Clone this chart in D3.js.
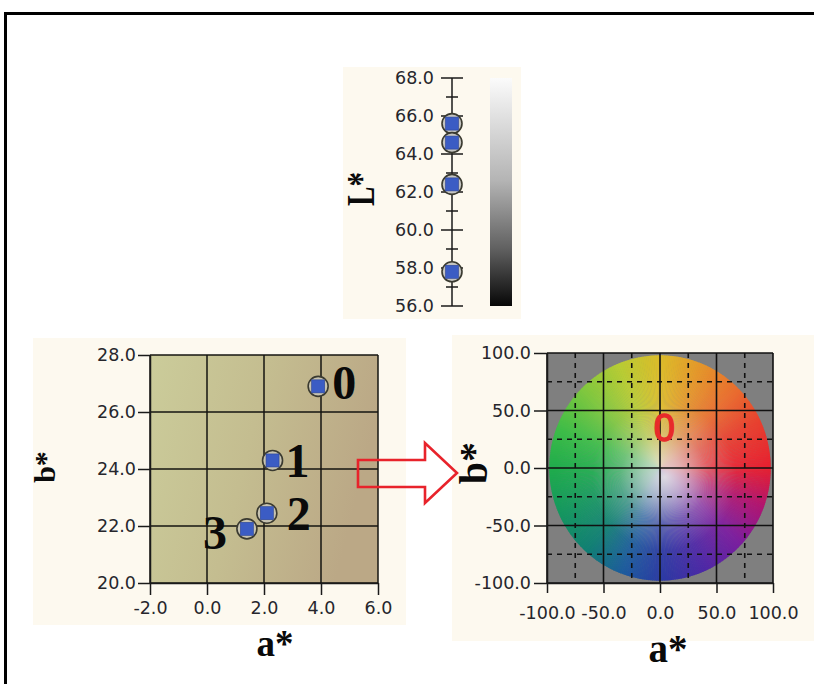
<!DOCTYPE html>
<html>
<head>
<meta charset="utf-8">
<script src="https://cdn.jsdelivr.net/npm/d3@7/dist/d3.min.js"></script>
<style>
  html, body { margin: 0; padding: 0; background: #ffffff; overflow: hidden; width: 814px; height: 684px; }
  svg { display: block; overflow: hidden; }
  .tick text { font-family: "DejaVu Sans", Verdana, sans-serif; font-size: 17.5px; fill: #26262c; }
  .tick line, .domain { stroke: #1a1a1a; stroke-width: 1.5; }
  .big { font-family: "Liberation Serif", "Times New Roman", serif; font-weight: bold; fill: #0a0a0a; }
</style>
</head>
<body>
<svg id="chart" width="814" height="684" viewBox="0 0 814 684"></svg>
<script>
// Samples measured in CIELAB space
const samples = ["0", "1", "2", "3"];
const lValues = [65.6, 64.6, 62.4, 57.8];
const aValues = [3.9, 2.3, 2.1, 1.4];
const bValues = [26.9, 24.3, 22.45, 21.9];

// Axis ticks
const lTicks = [56, 58, 60, 62, 64, 66, 68];
const lMinorTicks = [57, 59, 61, 63, 65, 67];
const abXTicks = [-2, 0, 2, 4, 6];
const abYTicks = [20, 22, 24, 26, 28];
const wheelTicks = [-100, -50, 0, 50, 100];
const wheelDashed = [-75, -25, 25, 75];

// Hue around the a*b* plane (angle from +a* toward +b*)
const hueAngles = [0, 25, 45, 70, 90, 112, 135, 160, 180, 205, 228, 250, 272, 295, 318, 340, 360];
const hueColors = ["#e61e2e", "#e8402e", "#ea6c2e", "#e49a2a", "#dcbc2a", "#b8cc34", "#80c83e", "#3cbc48",
                   "#20ac4c", "#149660", "#0e7e72", "#1a5a9c", "#2a36a2", "#4c24a4", "#7a1a9c", "#b0126e", "#e61e2e"];
const wheelRadius = 98;

// Label placement for the sample numbers (pixels from the point)
const labelOffsets = [[26, 13], [25, 17], [32, 17], [-32, 20]];

// Plain hyphen for negative tick values
const fmt = d3.formatLocale({ decimal: ".", thousands: ",", grouping: [3], currency: ["", ""], minus: "-" }).format(".1f");
const svg = d3.select("#chart");
const defs = svg.append("defs");

// Panel backgrounds
const cream = "#fdf9ef";
[[343, 67, 178, 252], [33, 338, 373, 287], [452, 335, 362, 306]].forEach(([x, y, w, h]) =>
  svg.append("rect").attr("x", x).attr("y", y).attr("width", w).attr("height", h).attr("fill", cream));

/* ---------- L* strip ---------- */
const yL = d3.scaleLinear().domain([56, 68]).range([306, 78]);
const lAxisX = 452;
const gL = svg.append("g");

const grayGrad = defs.append("linearGradient").attr("id", "grayBar")
  .attr("x1", 0).attr("y1", 0).attr("x2", 0).attr("y2", 1);
[[0, "#fbfbfb"], [0.45, "#b4b4b4"], [0.75, "#606060"], [1, "#070707"]].forEach(([o, c]) =>
  grayGrad.append("stop").attr("offset", o).attr("stop-color", c));
gL.append("rect").attr("x", 490).attr("y", yL(68)).attr("width", 22)
  .attr("height", yL(56) - yL(68)).attr("fill", "url(#grayBar)");

gL.append("g").attr("transform", `translate(${lAxisX},0)`)
  .call(d3.axisLeft(yL).tickValues(lTicks).tickFormat(fmt).tickSize(0).tickPadding(18))
  .call(g => g.select(".domain").remove());
gL.append("line").attr("x1", lAxisX).attr("x2", lAxisX).attr("y1", yL(68)).attr("y2", yL(56))
  .attr("stroke", "#1a1a1a").attr("stroke-width", 1.5);
gL.selectAll("line.major").data(lTicks).join("line").attr("class", "major")
  .attr("x1", lAxisX - 11).attr("x2", lAxisX + 11).attr("y1", d => yL(d)).attr("y2", d => yL(d))
  .attr("stroke", "#1a1a1a").attr("stroke-width", 1.5);
gL.selectAll("line.minor").data(lMinorTicks).join("line").attr("class", "minor")
  .attr("x1", lAxisX - 6).attr("x2", lAxisX + 6).attr("y1", d => yL(d)).attr("y2", d => yL(d))
  .attr("stroke", "#1a1a1a").attr("stroke-width", 1.5);

function marker(g, x, y, ring) {
  g.append("circle").attr("cx", x).attr("cy", y).attr("r", 10)
    .attr("fill", ring).attr("stroke", "#3a3a30").attr("stroke-width", 1.6);
  g.append("rect").attr("x", x - 6.5).attr("y", y - 6.5).attr("width", 13).attr("height", 13)
    .attr("fill", "#3b5cc4").attr("stroke", "#2c4496").attr("stroke-width", 0.6);
}
lValues.forEach(v => marker(gL, lAxisX, yL(v), "#c4c4c0"));

gL.append("text").attr("class", "big").attr("font-size", 29).attr("text-anchor", "middle")
  .attr("transform", "translate(374,189) scale(1.4,1) rotate(-90)").text("L*");

/* ---------- a*b* detail ---------- */
const xA = d3.scaleLinear().domain([-2, 6]).range([150, 378]);
const yB = d3.scaleLinear().domain([20, 28]).range([583, 355]);
const gAB = svg.append("g");

const olive = defs.append("linearGradient").attr("id", "olive")
  .attr("x1", 0).attr("y1", 0).attr("x2", 1).attr("y2", 0.25);
[[0, "#cbcc9a"], [0.5, "#c4bd90"], [1, "#bba886"]].forEach(([o, c]) =>
  olive.append("stop").attr("offset", o).attr("stop-color", c));
gAB.append("rect").attr("x", xA(-2)).attr("y", yB(28)).attr("width", xA(6) - xA(-2))
  .attr("height", yB(20) - yB(28)).attr("fill", "url(#olive)");

gAB.selectAll("line.gx").data(abXTicks).join("line").attr("class", "gx")
  .attr("x1", d => xA(d)).attr("x2", d => xA(d)).attr("y1", yB(28)).attr("y2", yB(20))
  .attr("stroke", "#141410").attr("stroke-width", 1.5);
gAB.selectAll("line.gy").data(abYTicks).join("line").attr("class", "gy")
  .attr("x1", xA(-2)).attr("x2", xA(6)).attr("y1", d => yB(d)).attr("y2", d => yB(d))
  .attr("stroke", "#141410").attr("stroke-width", 1.5);

gAB.append("g").attr("transform", `translate(0,${yB(20)})`)
  .call(d3.axisBottom(xA).tickValues(abXTicks).tickFormat(fmt).tickSize(12).tickPadding(7).tickSizeOuter(0));
gAB.append("g").attr("transform", `translate(${xA(-2)},0)`)
  .call(d3.axisLeft(yB).tickValues(abYTicks).tickFormat(fmt).tickSize(12).tickPadding(2).tickSizeOuter(0));

samples.forEach((s, i) => {
  const px = xA(aValues[i]), py = yB(bValues[i]);
  marker(gAB, px, py, "#c6c2b0");
  gAB.append("text").attr("class", "big").attr("font-size", 48).attr("text-anchor", "middle")
    .attr("x", px + labelOffsets[i][0]).attr("y", py + labelOffsets[i][1]).text(s);
});

gAB.append("text").attr("class", "big").attr("font-size", 30).attr("text-anchor", "middle")
  .attr("transform", "translate(55,467) rotate(-90)").text("b*");
gAB.append("text").attr("class", "big").attr("font-size", 37).attr("text-anchor", "middle")
  .attr("x", 275).attr("y", 656).text("a*");

/* ---------- arrow ---------- */
svg.append("path")
  .attr("d", "M358,460 L425,460 L425,443 L457,473 L425,503 L425,487 L358,487 Z")
  .attr("fill", "none").attr("stroke", "#e8232b").attr("stroke-width", 2.6).attr("stroke-linejoin", "miter");

/* ---------- a*b* colour plane ---------- */
const xW = d3.scaleLinear().domain([-100, 100]).range([547, 773]);
const yW = d3.scaleLinear().domain([-100, 100]).range([583, 353]);
const gW = svg.append("g");

gW.append("rect").attr("x", xW(-100)).attr("y", yW(100)).attr("width", xW(100) - xW(-100))
  .attr("height", yW(-100) - yW(100)).attr("fill", "#7f7f7f");

const hue = d3.scaleLinear().domain(hueAngles).range(hueColors).interpolate(d3.interpolateRgb);
const wedges = d3.range(0, 360, 1);
gW.selectAll("path.wedge").data(wedges).join("path").attr("class", "wedge")
  .attr("d", deg => {
    const a1 = deg * Math.PI / 180, a2 = (deg + 1.3) * Math.PI / 180;
    return `M${xW(0)},${yW(0)}` +
      `L${xW(wheelRadius * Math.cos(a1))},${yW(wheelRadius * Math.sin(a1))}` +
      `L${xW(wheelRadius * Math.cos(a2))},${yW(wheelRadius * Math.sin(a2))}Z`;
  })
  .attr("fill", deg => hue(deg + 0.5));

const glow = defs.append("radialGradient").attr("id", "glow").attr("cx", "52%").attr("cy", "54%").attr("r", "50%");
[[0, 0.9], [0.18, 0.65], [0.4, 0.28], [0.65, 0.06], [1, 0]].forEach(([o, a]) =>
  glow.append("stop").attr("offset", o).attr("stop-color", "#ececea").attr("stop-opacity", a));
gW.append("ellipse").attr("cx", xW(0)).attr("cy", yW(0))
  .attr("rx", xW(wheelRadius) - xW(0)).attr("ry", yW(0) - yW(wheelRadius)).attr("fill", "url(#glow)");

gW.selectAll("line.dx").data(wheelDashed).join("line").attr("class", "dx")
  .attr("x1", d => xW(d)).attr("x2", d => xW(d)).attr("y1", yW(100)).attr("y2", yW(-100))
  .attr("stroke", "#111").attr("stroke-width", 1.6).attr("stroke-dasharray", "5,5");
gW.selectAll("line.dy").data(wheelDashed).join("line").attr("class", "dy")
  .attr("x1", xW(-100)).attr("x2", xW(100)).attr("y1", d => yW(d)).attr("y2", d => yW(d))
  .attr("stroke", "#111").attr("stroke-width", 1.6).attr("stroke-dasharray", "5,5");
gW.selectAll("line.sx").data(wheelTicks).join("line").attr("class", "sx")
  .attr("x1", d => xW(d)).attr("x2", d => xW(d)).attr("y1", yW(100)).attr("y2", yW(-100))
  .attr("stroke", "#111").attr("stroke-width", 1.6);
gW.selectAll("line.sy").data(wheelTicks).join("line").attr("class", "sy")
  .attr("x1", xW(-100)).attr("x2", xW(100)).attr("y1", d => yW(d)).attr("y2", d => yW(d))
  .attr("stroke", "#111").attr("stroke-width", 1.6);

gW.append("g").attr("transform", `translate(0,${yW(-100)})`)
  .call(d3.axisBottom(xW).tickValues(wheelTicks).tickFormat(fmt).tickSize(10).tickPadding(14).tickSizeOuter(0));
gW.append("g").attr("transform", `translate(${xW(-100)},0)`)
  .call(d3.axisLeft(yW).tickValues(wheelTicks).tickFormat(fmt).tickSize(13).tickPadding(3).tickSizeOuter(0));

// Sample 0 located on the colour plane
gW.append("text").attr("x", xW(aValues[0])).attr("y", yW(bValues[0]) + 4).attr("text-anchor", "middle")
  .attr("font-family", "'Liberation Sans', Arial, sans-serif").attr("font-size", 38)
  .attr("fill", "#e82a2a").attr("stroke", "#e82a2a").attr("stroke-width", 1.4).text(samples[0]);

gW.append("text").attr("class", "big").attr("font-size", 40).attr("text-anchor", "middle")
  .attr("transform", "translate(487,463) rotate(-90)").text("b*");
gW.append("text").attr("class", "big").attr("font-size", 39).attr("text-anchor", "middle")
  .attr("x", 668).attr("y", 662).text("a*");

// Outer frame: only its top and left edges fall on the page
svg.append("line").attr("x1", 4).attr("x2", 814).attr("y1", 13.5).attr("y2", 13.5)
  .attr("stroke", "#000").attr("stroke-width", 3);
svg.append("line").attr("x1", 5.5).attr("x2", 5.5).attr("y1", 12).attr("y2", 684)
  .attr("stroke", "#000").attr("stroke-width", 3);
</script>
</body>
</html>
